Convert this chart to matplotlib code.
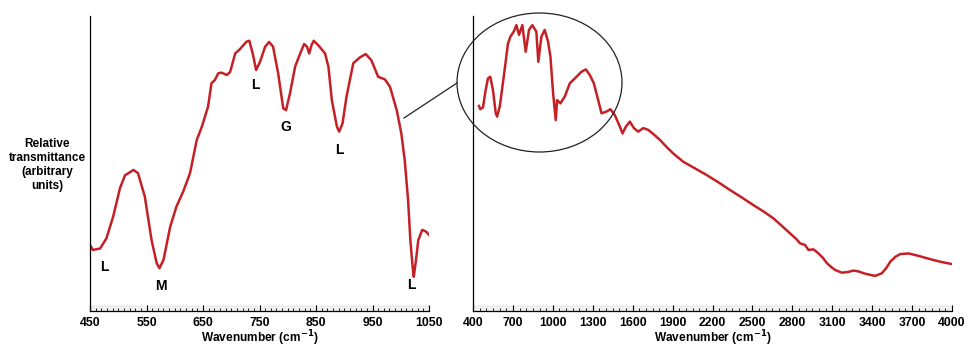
import matplotlib.pyplot as plt
from matplotlib.patches import Ellipse
from matplotlib.lines import Line2D
from matplotlib.ticker import MultipleLocator

# fingerprint region (left panel)
wn_low = [450, 455, 468, 479, 491, 503, 512, 527, 535, 547, 559, 568, 573, 580, 592,
          603, 615, 627, 639, 648, 659, 665, 671, 677, 683, 692, 698, 707, 715, 727,
          732, 738, 744, 751, 760, 767, 774, 783, 792, 797, 804, 813, 822, 829, 834,
          838, 842, 846, 854, 866, 872, 878, 887, 891, 897, 904, 916, 928, 938, 948,
          960, 972, 981, 993, 1001, 1007, 1013, 1017, 1021, 1023, 1027, 1031, 1038, 1045, 1050]
tr_low = [22.4, 20.7, 21.2, 24.6, 32, 41.6, 46, 47.8, 46.7, 38.8, 24, 16.2, 14.5, 17.3, 28.6,
          35.4, 40.5, 46.7, 58, 62.5, 69.3, 77.2, 78.3, 80.6, 80.8, 80, 81, 87.3, 88.7, 91.3,
          91.6, 87.3, 81.7, 84.5, 89.6, 91.2, 89.6, 80.6, 68.7, 68.1, 73.8, 82.8, 87.3, 90.5, 89.6,
          87.3, 90.1, 91.6, 90.1, 87.3, 82.8, 71.5, 62.5, 60.8, 63.6, 72.7, 84, 86, 87.1, 85,
          79.4, 78.5, 76, 68, 60.2, 51.2, 37.6, 24, 15, 11.6, 17.3, 24, 27.5, 26.9, 25.8]

# full spectrum (right panel)
wn_full = [445, 455, 475, 495, 513, 530, 550, 571, 581, 601, 631, 663, 681, 706, 726, 746,
           771, 796, 821, 846, 876, 891, 914, 939, 964, 982, 1002, 1022, 1032, 1057, 1090,
           1128, 1178, 1215, 1248, 1278, 1308, 1341, 1366, 1403, 1433, 1466, 1499, 1524, 1549,
           1579, 1609, 1642, 1680, 1717, 1760, 1805, 1855, 1905, 1980, 2070, 2156, 2245, 2332,
           2420, 2507, 2585, 2658, 2720, 2783, 2830, 2859, 2896, 2921, 2959, 2997, 3030, 3060,
           3095, 3122, 3172, 3215, 3260, 3300, 3335, 3380, 3423, 3473, 3505, 3536, 3575, 3611,
           3674, 3730, 3787, 3850, 3912, 4000]
tr_full = [69.5, 68.4, 69, 74.9, 78.9, 79.4, 74.9, 67, 65.9, 69.3, 79.4, 90.7, 93, 94.7, 96.9, 93.6,
           96.9, 87.9, 95.3, 96.9, 94.7, 84.5, 93, 95.3, 91.3, 86.2, 73.8, 64.7, 71.5, 70.4, 72.7,
           77.2, 79.4, 81.1, 81.9, 80, 77.2, 71.5, 67, 67.6, 68.4, 66.4, 63, 60.2, 62.5,
           64.2, 62, 60.8, 62, 61.4, 59.8, 58, 55.6, 53.4, 50.6, 48.3, 46.1, 43.6, 41,
           38.5, 35.9, 33.7, 31.4, 28.9, 26.3, 24.4, 22.9, 22.4, 20.7, 20.9, 19.5, 18.0, 16.2,
           14.8, 13.9, 13, 13.2, 13.7, 13.4, 12.8, 12.3, 11.9, 12.8, 14.5, 16.7, 18.4, 19.3,
           19.5, 18.9, 18.2, 17.4, 16.7, 15.9]

band_labels = ["L", "M", "L", "G", "L", "L"]
band_x = [476, 576, 742, 797, 892, 1019]
band_y = [15, 8.5, 76.6, 62.3, 54.6, 8.8]

low_ticks = [450, 550, 650, 750, 850, 950, 1050]
full_ticks = [400, 700, 1000, 1300, 1600, 1900, 2200, 2500, 2800, 3100, 3400, 3700, 4000]

red = "#c42127"
W, H = 971, 348

plt.rcParams["font.family"] = ["Liberation Sans", "DejaVu Sans"]
plt.rcParams["font.weight"] = "bold"

fig = plt.figure(figsize=(W / 100, H / 100), dpi=100)
ax1 = fig.add_axes([90 / W, 37 / H, 339 / W, 295 / H])
ax2 = fig.add_axes([473 / W, 37 / H, 479 / W, 295 / H])


def style(ax, ticks, minor):
    ax.set_xlim(ticks[0], ticks[-1])
    ax.set_ylim(0, 100)
    for s in ["top", "right"]:
        ax.spines[s].set_visible(False)
    ax.spines["left"].set_linewidth(0.9)
    ax.spines["bottom"].set_linewidth(0.9)
    ax.set_yticks([])
    ax.set_xticks(ticks)
    ax.xaxis.set_minor_locator(MultipleLocator(minor))
    ax.tick_params(axis="x", which="major", direction="in", length=4, width=0.8,
                   labelsize=8.8, pad=4)
    ax.tick_params(axis="x", which="minor", direction="in", length=2.5, width=0.6)
    for t in ax.get_xticklabels():
        t.set_fontweight("bold")
    ax.axhspan(0, 2.2, color="#f0f0f0", zorder=0)
    ax.set_xlabel("Wavenumber (cm$^{\\mathbf{-1}}$)", fontsize=8.6, fontweight="bold", labelpad=0)


ax1.plot(wn_low, tr_low, color=red, lw=1.8, solid_joinstyle="round")
style(ax1, low_ticks, 10)
for lab, x, y in zip(band_labels, band_x, band_y):
    ax1.text(x, y, lab, fontsize=10, fontweight="bold", ha="center", va="center")

ax2.plot(wn_full, tr_full, color=red, lw=1.8, solid_joinstyle="round")
style(ax2, full_ticks, 50)

fig.text(47 / W, 1 - 165 / H, "Relative\ntransmittance\n(arbitrary\nunits)",
         fontsize=8.5, fontweight="bold", ha="center", va="center", linespacing=1.2)

# zoom ellipse and connector
fig.add_artist(Ellipse((539.5 / W, 1 - 82.5 / H), 165 / W, 139 / H,
                       transform=fig.transFigure, fill=False, edgecolor="#222222", lw=0.9))
fig.add_artist(Line2D([404 / W, 457 / W], [1 - 118 / H, 1 - 83 / H],
                      transform=fig.transFigure, color="#222222", lw=0.9))

fig.savefig("out.png", dpi=100)
